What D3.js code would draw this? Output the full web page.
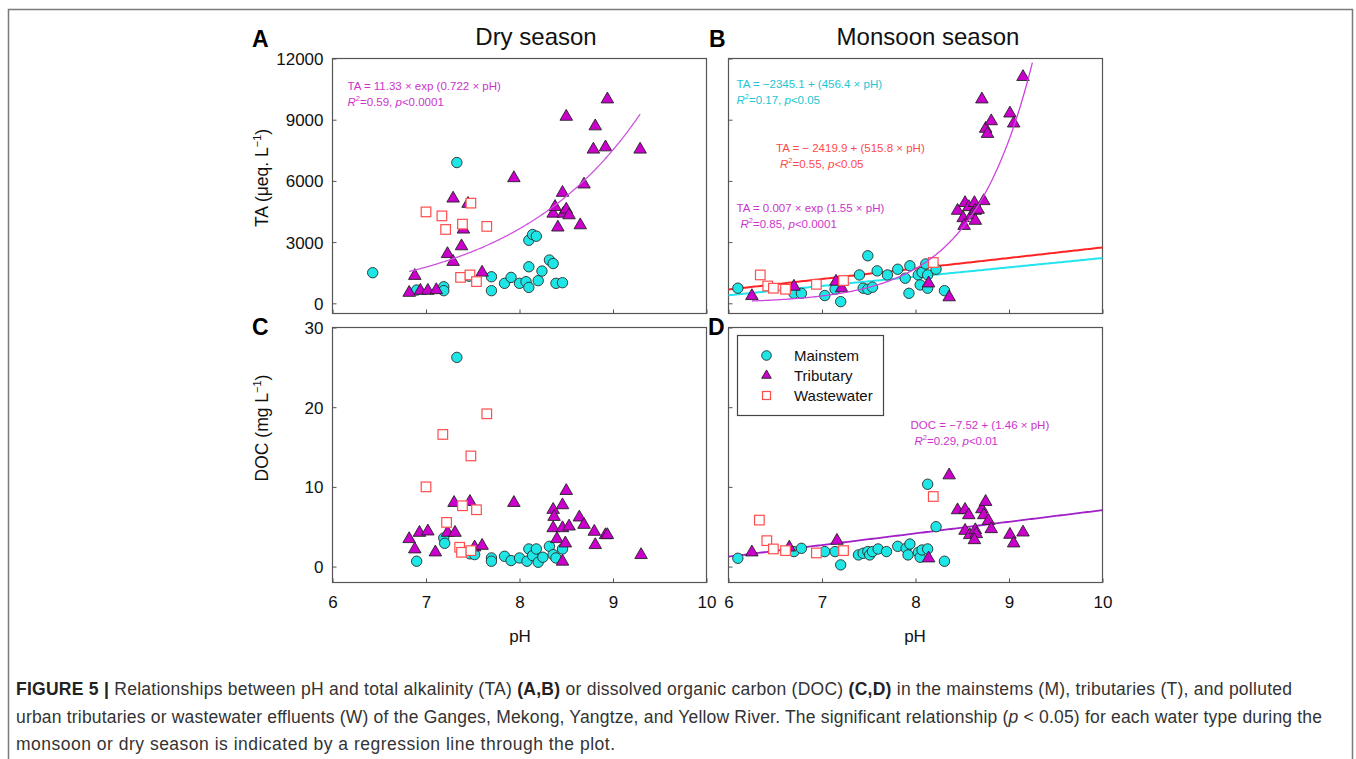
<!DOCTYPE html>
<html>
<head>
<meta charset="utf-8">
<script src="https://cdn.jsdelivr.net/npm/d3@7"></script>
<style>
  html, body { margin: 0; padding: 0; background: #fff; }
  svg { display: block; font-family: "Liberation Sans", Arial, sans-serif; }
</style>
</head>
<body>
<svg id="fig" width="1356" height="759"></svg>
<script>
// ---- Dry season, total alkalinity (pH, TA µeq/L) ----
const dryMainTA = [[6.43,1500],[6.90,650],[7.19,810],[7.19,620],[7.33,6900],[7.46,1330],
  [7.70,1300],[7.70,620],[7.84,980],[7.91,1270],[8.00,980],[8.07,1060],[8.10,780],[8.10,1790],
  [8.10,3090],[8.14,3370],[8.18,3290],[8.20,1110],[8.24,1580],[8.32,2120],[8.36,1950],[8.39,980],[8.46,1010]];
const dryTribTA = [[6.82,520],[6.88,1350],[6.94,620],[7.02,620],[7.11,650],[7.23,2420],[7.29,2035],
  [7.29,5140],[7.38,2800],[7.40,3620],[7.45,4880],[7.60,1510],[7.94,6140],[8.36,4400],[8.38,4730],
  [8.41,3720],[8.46,5420],[8.47,4400],[8.50,4600],[8.50,9150],[8.53,4320],[8.65,3830],[8.69,5830],
  [8.79,7540],[8.81,8680],[8.92,7650],[8.94,10000],[9.29,7540]];
const dryWasteTA = [[7.00,4480],[7.17,4285],[7.21,3620],[7.39,3880],[7.48,4910],[7.65,3770],
  [7.37,1270],[7.47,1390],[7.54,1065]];

// ---- Monsoon season, total alkalinity ----
const monMainTA = [[6.10,740],[6.70,490],[6.78,490],[7.03,380],[7.14,690],[7.20,80],[7.40,1390],
  [7.44,740],[7.49,690],[7.54,790],[7.49,2330],[7.59,1590],[7.70,1390],[7.81,1670],[7.89,1230],
  [7.93,490],[7.94,1840],[8.03,1390],[8.05,900],[8.07,1520],[8.11,1930],[8.13,1390],[8.13,740],
  [8.22,1670],[8.31,620]];
const monTribTA = [[6.25,360],[6.70,820],[7.15,1065],[7.21,740],[8.14,980],[8.36,300],[8.45,4540],
  [8.51,4180],[8.52,3800],[8.53,4920],[8.57,4720],[8.60,4310],[8.63,4920],[8.64,4540],[8.67,4590],
  [8.64,4050],[8.73,5015],[8.71,10000],[8.75,8560],[8.81,8930],[8.77,8310],[9.01,9310],[9.05,8820],[9.15,11100]];
const monWasteTA = [[6.34,1390],[6.42,850],[6.48,740],[6.61,690],[6.94,930],[7.23,1115],[8.19,2000]];

// ---- Dry season, dissolved organic carbon (pH, DOC mg/L) ----
const dryMainDOC = [[6.90,0.67],[7.19,3.58],[7.20,2.92],[7.33,26.25],[7.47,1.6],[7.52,1.5],[7.70,1.08],
  [7.70,0.67],[7.84,1.29],[7.91,0.75],[8.00,1.08],[8.08,0.67],[8.10,2.21],[8.14,1.38],[8.18,2.21],
  [8.20,0.54],[8.25,1.17],[8.32,2.54],[8.36,1.5],[8.39,1.08],[8.46,2.21]];
const dryTribDOC = [[6.82,3.46],[6.88,2.17],[6.93,4.25],[7.02,4.42],[7.10,1.79],[7.23,4.25],[7.30,8.0],
  [7.31,4.25],[7.47,8.13],[7.52,2.42],[7.60,2.62],[7.94,8.0],[8.36,7.13],[8.37,6.25],[8.36,4.83],
  [8.46,7.71],[8.46,4.83],[8.40,3.46],[8.50,9.5],[8.49,2.92],[8.46,0.63],[8.53,5.04],[8.64,6.17],
  [8.69,5.25],[8.80,4.38],[8.81,2.71],[8.92,3.96],[8.94,3.96],[9.30,1.46]];
const dryWasteDOC = [[7.00,10.0],[7.18,16.58],[7.22,5.54],[7.36,2.42],[7.38,1.79],[7.39,7.63],
  [7.48,2.0],[7.48,13.88],[7.54,7.13],[7.65,19.17]];

// ---- Monsoon season, dissolved organic carbon ----
const monMainDOC = [[6.10,1.04],[6.70,1.88],[6.78,2.29],[7.03,1.88],[7.14,1.88],[7.20,0.21],[7.39,1.46],
  [7.44,1.67],[7.49,1.88],[7.51,1.46],[7.54,1.88],[7.60,2.21],[7.69,1.88],[7.81,2.54],[7.90,2.29],
  [7.92,1.46],[7.94,2.83],[8.03,1.79],[8.05,1.17],[8.07,2.08],[8.13,2.21],[8.13,10.33],[8.22,5.0],[8.31,0.67]];
const monTribDOC = [[6.25,1.79],[6.65,2.4],[7.16,3.25],[8.14,1.04],[8.36,11.46],[8.45,7.08],[8.53,7.13],
  [8.57,6.46],[8.53,4.5],[8.58,3.96],[8.64,4.58],[8.65,4.08],[8.63,3.33],[8.71,7.21],[8.73,6.46],
  [8.75,8.13],[8.78,5.75],[8.81,4.71],[9.01,4.0],[9.05,2.92],[9.15,4.29]];
const monWasteDOC = [[6.33,5.83],[6.41,3.25],[6.48,2.21],[6.61,2.0],[6.94,1.71],[7.23,2.0],[8.19,8.79]];

// ---- Axis ticks ----
const pHTicks = [6, 7, 8, 9, 10];
const taTicks = [0, 3000, 6000, 9000, 12000];
const docTicks = [0, 10, 20, 30];

// ---- Regression fits: [a, b, pH from, pH to] ----
const dryTAExpFit = [11.33, 0.722, 6.82, 9.29];      // TA = a * exp(b * pH)
const monTAExpFit = [0.007, 1.55, 6.25, 9.25];       // TA = a * exp(b * pH)
const monMainLinFit = [-2345.1, 456.4, 6, 10];       // TA = a + b * pH
const monWasteLinFit = [-2419.9, 515.8, 6, 10];      // TA = a + b * pH
const monDOCLinFit = [-7.52, 1.46, 6, 10];           // DOC = a + b * pH

const seriesNames = ["Mainstem", "Tributary", "Wastewater"];

// ---- Styles ----
const C_CYAN = "#1ee6e6", C_MAG = "#cc00cc", C_RED = "#ff4d4d";
const AXIS = "#555";

const svg = d3.select("#fig");
svg.append("rect").attr("width", 1356).attr("height", 759).attr("fill", "#fff");
// figure border
svg.append("path").attr("d", "M8.5,765 V9.5 H1352.5 V765")
  .attr("fill", "none").attr("stroke", "#7a7a7a").attr("stroke-width", 1.5);

// Panel geometry
const xLeft = d3.scaleLinear().domain([6, 10]).range([332.5, 706.5]);
const xRight = d3.scaleLinear().domain([6, 10]).range([728.5, 1102.5]);
const yTA = d3.scaleLinear().domain([-500, 12000]).range([313.5, 58.5]);
const yDOC = d3.scaleLinear().domain([-2, 30]).range([582.5, 327.5]);

function frame(x, y, showX, showY) {
  const g = svg.append("g");
  const [x0, x1] = x.range(), [y0, y1] = y.range();
  // inward ticks
  const ax = d3.axisBottom(x).tickValues(pHTicks).tickSize(-4).tickSizeOuter(0)
    .tickFormat(showX ? d3.format("d") : "");
  const gx = g.append("g").attr("transform", `translate(0,${y0})`).call(ax);
  const yTicks = y === yTA ? taTicks : docTicks;
  const ay = d3.axisLeft(y).tickValues(yTicks).tickSize(-4).tickSizeOuter(0)
    .tickFormat(showY ? d3.format("d") : "");
  const gy = g.append("g").attr("transform", `translate(${x0},0)`).call(ay);
  [gx, gy].forEach(a => {
    a.select(".domain").remove();
    a.selectAll("line").attr("stroke", AXIS).attr("stroke-width", 1);
    a.selectAll("text").attr("font-size", 17).attr("fill", "#111")
      .attr("font-family", "Liberation Sans, Arial, sans-serif");
  });
  gx.selectAll("text").attr("dy", "1em").attr("y", 8);
  gy.selectAll("text").attr("x", -9).attr("dy", "0.35em");
  g.append("rect").attr("x", x0).attr("y", y1).attr("width", x1 - x0).attr("height", y0 - y1)
    .attr("fill", "none").attr("stroke", AXIS).attr("stroke-width", 1.2);
}

function points(x, y, main, trib, waste) {
  const g = svg.append("g");
  g.selectAll("circle").data(main).join("circle")
    .attr("cx", d => x(d[0])).attr("cy", d => y(d[1])).attr("r", 5.2)
    .attr("fill", C_CYAN).attr("stroke", "#2a2a2a").attr("stroke-width", 0.9);
  const tri = d3.symbol().type(d3.symbolTriangle).size(68);
  g.selectAll("path.t").data(trib).join("path").attr("class", "t")
    .attr("d", tri).attr("transform", d => `translate(${x(d[0])},${y(d[1])})`)
    .attr("fill", C_MAG).attr("stroke", "#222").attr("stroke-width", 0.9);
  g.selectAll("rect").data(waste).join("rect")
    .attr("x", d => x(d[0]) - 4.8).attr("y", d => y(d[1]) - 4.8).attr("width", 9.6).attr("height", 9.6)
    .attr("fill", "#fff").attr("stroke", C_RED).attr("stroke-width", 1.2);
}

function fitLine(x, y, fit, kind, color, width, clip) {
  const [a, b, lo, hi] = fit;
  const f = kind === "exp" ? (p => a * Math.exp(b * p)) : (p => a + b * p);
  const xs = d3.range(lo, hi + 1e-9, (hi - lo) / 200);
  const line = d3.line().x(p => x(p)).y(p => y(f(p)));
  const p = svg.append("path").datum(xs).attr("d", line)
    .attr("fill", "none").attr("stroke", color).attr("stroke-width", width);
  if (clip) p.attr("clip-path", `url(#${clip})`);
}

// Equation label: first line plain, second line "R²=..., p<..."
function eqn(x, y, line1, r2, pval, color, indent) {
  const t = svg.append("text").attr("font-size", 11.5).attr("fill", color);
  t.append("tspan").attr("x", x).attr("y", y).text(line1);
  const t2 = svg.append("text").attr("font-size", 11.5).attr("fill", color)
    .attr("x", x + (indent || 0)).attr("y", y + 16);
  t2.append("tspan").attr("font-style", "italic").text("R");
  t2.append("tspan").attr("font-size", 7.5).attr("dy", -5).text("2");
  t2.append("tspan").attr("dy", 5).text("=" + r2 + ", ");
  t2.append("tspan").attr("font-style", "italic").text("p");
  t2.append("tspan").text("<" + pval);
}

// Frames
frame(xLeft, yTA, false, true);
frame(xRight, yTA, false, false);
frame(xLeft, yDOC, true, true);
frame(xRight, yDOC, true, false);

svg.append("clipPath").attr("id", "clipB").append("rect")
  .attr("x", 728.5).attr("y", 58.5).attr("width", 374).attr("height", 255);

// Straight fits sit behind the markers
fitLine(xRight, yTA, monMainLinFit, "lin", "#22e4ee", 2);
fitLine(xRight, yTA, monWasteLinFit, "lin", "#ff2424", 2);
fitLine(xRight, yDOC, monDOCLinFit, "lin", "#a21ec8", 1.8);

points(xLeft, yTA, dryMainTA, dryTribTA, dryWasteTA);
points(xRight, yTA, monMainTA, monTribTA, monWasteTA);
points(xLeft, yDOC, dryMainDOC, dryTribDOC, dryWasteDOC);
points(xRight, yDOC, monMainDOC, monTribDOC, monWasteDOC);

fitLine(xLeft, yTA, dryTAExpFit, "exp", "#cc55dd", 1.3);
fitLine(xRight, yTA, monTAExpFit, "exp", "#cc44dd", 1.3, "clipB");

// Equations
eqn(347.5, 89.5, "TA = 11.33 \u00d7 exp (0.722 \u00d7 pH)", "0.59", "0.0001", "#cc33cc", 0);
eqn(736.5, 88, "TA = \u22122345.1 + (456.4 \u00d7 pH)", "0.17", "0.05", "#1cc6d2", 0);
eqn(776, 151.5, "TA = \u2212 2419.9 + (515.8 \u00d7 pH)", "0.55", "0.05", "#ff4a4a", 4);
eqn(736.5, 212, "TA = 0.007 \u00d7 exp (1.55 \u00d7 pH)", "0.85", "0.0001", "#cc33cc", 4);
eqn(910.5, 429, "DOC = \u22127.52 + (1.46 \u00d7 pH)", "0.29", "0.01", "#cc33cc", 4);

// Legend
const lg = svg.append("g");
lg.append("rect").attr("x", 737.5).attr("y", 335.5).attr("width", 146).attr("height", 80)
  .attr("fill", "#fff").attr("stroke", "#444").attr("stroke-width", 1.2);
const lgY = [355.5, 375.5, 395.5];
lg.append("circle").attr("cx", 766.5).attr("cy", lgY[0]).attr("r", 4.8)
  .attr("fill", C_CYAN).attr("stroke", "#2a2a2a").attr("stroke-width", 0.9);
lg.append("path").attr("d", d3.symbol().type(d3.symbolTriangle).size(40))
  .attr("transform", `translate(766.5,${lgY[1]})`)
  .attr("fill", C_MAG).attr("stroke", "#222").attr("stroke-width", 0.9);
lg.append("rect").attr("x", 762.5).attr("y", lgY[2] - 4).attr("width", 8).attr("height", 8)
  .attr("fill", "#fff").attr("stroke", C_RED).attr("stroke-width", 1.2);
seriesNames.forEach((n, i) => {
  lg.append("text").attr("x", 794).attr("y", lgY[i]).attr("dy", "0.36em")
    .attr("font-size", 15).attr("fill", "#111").text(n);
});

// Titles and panel letters
svg.append("text").attr("x", 536).attr("y", 45).attr("text-anchor", "middle")
  .attr("font-size", 24).attr("fill", "#111").text("Dry season");
svg.append("text").attr("x", 928).attr("y", 45).attr("text-anchor", "middle")
  .attr("font-size", 24).attr("fill", "#111").text("Monsoon season");
[["A", 252, 47], ["B", 709, 47], ["C", 252, 335], ["D", 708, 335]].forEach(([l, x, y]) => {
  svg.append("text").attr("x", x).attr("y", y).attr("font-size", 23).attr("font-weight", "bold")
    .attr("fill", "#000").text(l);
});

// Axis titles
function yTitle(cx, cy, main) {
  const t = svg.append("text").attr("transform", `translate(${cx},${cy}) rotate(-90)`)
    .attr("text-anchor", "middle").attr("font-size", 17.5).attr("fill", "#111");
  t.append("tspan").text(main);
  t.append("tspan").attr("font-size", 11).attr("dy", -7).text("\u22121");
  t.append("tspan").attr("dy", 7).text(")");
}
yTitle(268, 178, "TA (\u03bceq. L");
yTitle(268, 428, "DOC (mg L");
svg.append("text").attr("x", 520).attr("y", 642).attr("text-anchor", "middle")
  .attr("font-size", 17).attr("fill", "#111").text("pH");
svg.append("text").attr("x", 915).attr("y", 642).attr("text-anchor", "middle")
  .attr("font-size", 17).attr("fill", "#111").text("pH");

// Caption
const capLines = [
  [["b", "FIGURE 5 | "], ["", "Relationships between pH and total alkalinity (TA) "], ["b", "(A,B)"],
   ["", " or dissolved organic carbon (DOC) "], ["b", "(C,D)"],
   ["", " in the mainstems (M), tributaries (T), and polluted"]],
  [["", "urban tributaries or wastewater effluents (W) of the Ganges, Mekong, Yangtze, and Yellow River. The significant relationship ("],
   ["i", "p"], ["", " < 0.05) for each water type during the"]],
  [["", "monsoon or dry season is indicated by a regression line through the plot."]]
];
const capWidths = [1276, 1306, 599];
capLines.forEach((segs, i) => {
  const t = svg.append("text").attr("x", 16).attr("y", 695 + i * 27.5)
    .attr("font-size", 17.5).attr("fill", "#333");
  segs.forEach(([s, txt]) => {
    const sp = t.append("tspan").text(txt);
    if (s === "b") sp.attr("font-weight", "bold").attr("fill", "#222");
    if (s === "i") sp.attr("font-style", "italic");
  });
  t.attr("textLength", capWidths[i]).attr("lengthAdjust", "spacing");
});
</script>
</body>
</html>
